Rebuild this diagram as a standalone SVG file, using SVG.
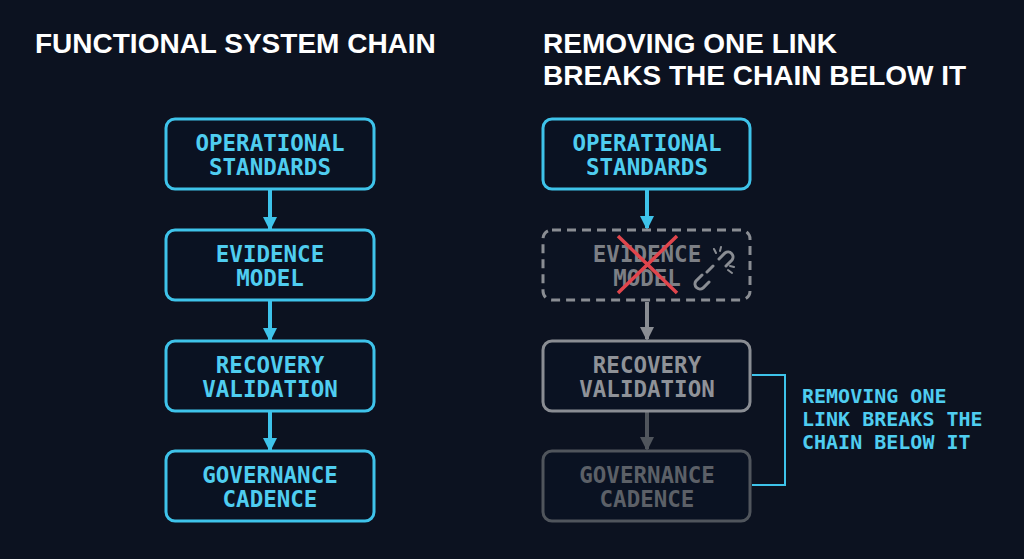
<svg xmlns="http://www.w3.org/2000/svg" width="1024" height="559" viewBox="0 0 1024 559">
<defs>
<style>
.t{font-family:"Liberation Sans",Arial,sans-serif;font-weight:bold;font-size:28px;fill:#fff}
.b{fill:#0a1222;stroke-width:3}
.m{font-family:"DejaVu Sans Mono","Liberation Mono",monospace;font-size:22.5px;font-weight:bold;text-anchor:middle}
.c{stroke:#3ec3ea}.ct{fill:#4fcdf0}
</style>
<marker id="ag" markerWidth="16" markerHeight="16" refX="12" refY="7" orient="auto" markerUnits="userSpaceOnUse"><path d="M0,0L14,7L0,14Z" fill="#8a8d93"/></marker>
<marker id="ad" markerWidth="16" markerHeight="16" refX="12" refY="7" orient="auto" markerUnits="userSpaceOnUse"><path d="M0,0L14,7L0,14Z" fill="#50555c"/></marker>
<marker id="ab" markerWidth="16" markerHeight="16" refX="12" refY="7" orient="auto" markerUnits="userSpaceOnUse"><path d="M0,0L14,7L0,14Z" fill="#3ec3ea"/></marker>
</defs>
<rect width="1024" height="559" fill="#0c1220"/>
<text class="t" x="35" y="53">FUNCTIONAL SYSTEM CHAIN</text>
<text class="t" x="543" y="53">REMOVING ONE LINK</text>
<text class="t" x="543" y="85">BREAKS THE CHAIN BELOW IT</text>
<g id="connectors" stroke-width="4">
<line x1="270" y1="190" x2="270" y2="229" stroke="#3ec3ea" marker-end="url(#ab)"/>
<line x1="270" y1="301" x2="270" y2="340" stroke="#3ec3ea" marker-end="url(#ab)"/>
<line x1="270" y1="412" x2="270" y2="450" stroke="#3ec3ea" marker-end="url(#ab)"/>
<line x1="647" y1="190" x2="647" y2="228" stroke="#3ec3ea" marker-end="url(#ab)"/>
<line x1="647" y1="302" x2="647" y2="339" stroke="#8a8d93" marker-end="url(#ag)"/>
<line x1="647" y1="412" x2="647" y2="449" stroke="#50555c" marker-end="url(#ad)"/>
<path d="M752,375H785V485H752" fill="none" stroke="#3ec3ea" stroke-width="2"/>
</g>
<g id="l1"><rect class="b c" x="166" y="119" width="208" height="70" rx="9"/><text class="m ct" x="270" y="151">OPERATIONAL</text><text class="m ct" x="270" y="175">STANDARDS</text></g>
<g id="l2"><rect class="b c" x="166" y="230" width="208" height="70" rx="9"/><text class="m ct" x="270" y="262">EVIDENCE</text><text class="m ct" x="270" y="286">MODEL</text></g>
<g id="l3"><rect class="b c" x="166" y="341" width="208" height="70" rx="9"/><text class="m ct" x="270" y="373">RECOVERY</text><text class="m ct" x="270" y="397">VALIDATION</text></g>
<g id="l4"><rect class="b c" x="166" y="451" width="208" height="70" rx="9"/><text class="m ct" x="270" y="483">GOVERNANCE</text><text class="m ct" x="270" y="507">CADENCE</text></g>
<g id="r1"><rect class="b c" x="543" y="119" width="207" height="70" rx="9"/><text class="m ct" x="647" y="151">OPERATIONAL</text><text class="m ct" x="647" y="175">STANDARDS</text></g>
<g id="r2"><rect x="543" y="230" width="207" height="70" rx="9" fill="#0c1322" stroke="#8a8d93" stroke-width="3" stroke-dasharray="9,6"/><text class="m" fill="#7c7f85" x="647" y="262">EVIDENCE</text><text class="m" fill="#7c7f85" x="647" y="286">MODEL</text>
<path d="M618,236L677,293M677,236L618,293" stroke="#e0454c" stroke-width="3.5"/>
<g fill="none" stroke="#8a8d93" stroke-width="3" stroke-linecap="round"><path d="M719,259l6,-6a5,5 0 0 1 7,7l-6,6M709,282l-6,6a5,5 0 0 1 -7,-7l6,-6M713,266l-6,6"/><path d="M716,253l-2,-4M720,251l1,-4M730,266l4,1M728,270l4,3" stroke-width="2"/></g></g>
<g id="r3"><rect class="b" stroke="#8a8d93" x="543" y="341" width="207" height="70" rx="9"/><text class="m" fill="#8f9298" x="647" y="373">RECOVERY</text><text class="m" fill="#8f9298" x="647" y="397">VALIDATION</text></g>
<g id="r4"><rect class="b" stroke="#50555c" x="543" y="451" width="207" height="70" rx="9"/><text class="m" fill="#5c6067" x="647" y="483">GOVERNANCE</text><text class="m" fill="#5c6067" x="647" y="507">CADENCE</text></g>
<g id="note" font-family="DejaVu Sans Mono,Liberation Mono,monospace" font-size="20" font-weight="bold" fill="#4fcdf0"><text x="802" y="403">REMOVING ONE</text><text x="802" y="426">LINK BREAKS THE</text><text x="802" y="449">CHAIN BELOW IT</text></g>
</svg>
